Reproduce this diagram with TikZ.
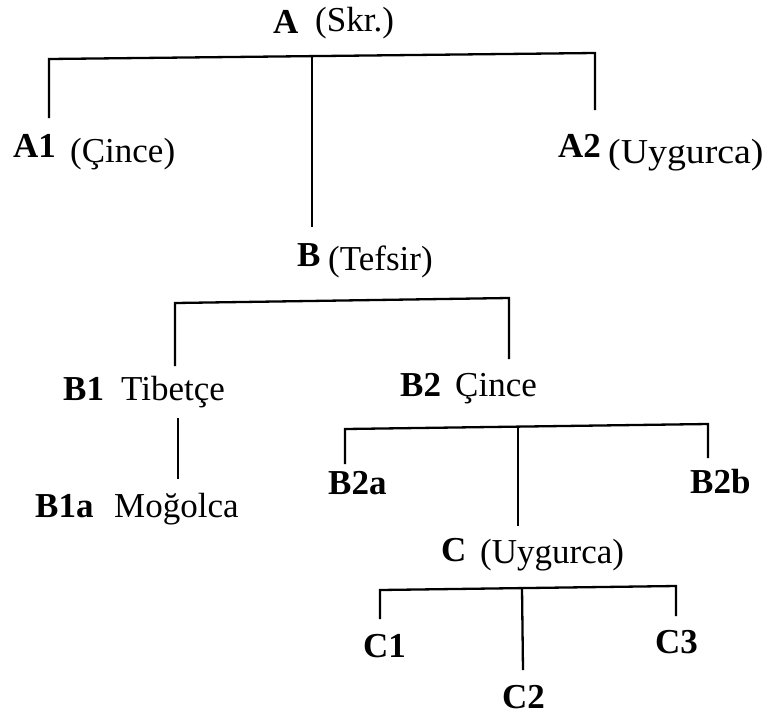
\documentclass[tikz,border=0pt]{standalone}
\usepackage{fontspec}
\setmainfont{Liberation Serif}
\begin{document}
\begin{tikzpicture}[x=1pt,y=-1pt,
  lbl/.style={inner sep=0pt, anchor=base west, font=\fontsize{35pt}{40pt}\selectfont\bfseries},
  ann/.style={inner sep=0pt, anchor=base west, font=\fontsize{35pt}{40pt}\selectfont},
  conn/.style={line width=2.3pt, line join=miter, draw=black}]
\useasboundingbox (0,0) rectangle (773,716);
% labels
\node[lbl] (A) at (273,33) {A};
\node[ann] (Ax) at (315,31) {(Skr.)};
\node[lbl] (A1) at (13,157) {A1};
\node[ann] (A1x) at (70,162) {(Çince)};
\node[lbl] (A2) at (558,157) {A2};
\node[ann, xscale=1.08, transform shape] (A2x) at (608,163) {(Uygurca)};
\node[lbl] (B) at (297,266) {B};
\node[ann] (Bx) at (328,270) {(Tefsir)};
\node[lbl] (B1) at (63,400) {B1};
\node[ann] (B1x) at (121,400) {Tibetçe};
\node[lbl] (B1a) at (35,517) {B1a};
\node[ann] (B1ax) at (114,517) {Moğolca};
\node[lbl] (B2) at (400,396) {B2};
\node[ann] (B2x) at (455,396) {Çince};
\node[lbl] (B2a) at (328,494) {B2a};
\node[lbl] (B2b) at (690,493) {B2b};
\node[lbl] (C) at (441,561) {C};
\node[ann] (Cx) at (480,563) {(Uygurca)};
\node[lbl] (C1) at (363,657) {C1};
\node[lbl] (C2) at (502,708) {C2};
\node[lbl] (C3) at (655,653) {C3};
% junction coordinates
\coordinate (aL) at (49,59);
\coordinate (aM) at (312,57);
\coordinate (aR) at (595,53);
\coordinate (a1e) at (49,118);
\coordinate (a2e) at (595,110);
\coordinate (be) at (312,227);
\coordinate (bL) at (175,303);
\coordinate (bR) at (509,298);
\coordinate (b1e) at (175,366);
\coordinate (b2e) at (509,359);
\coordinate (b1s) at (178,418);
\coordinate (b1ae) at (178,479);
\coordinate (cL) at (345,429);
\coordinate (cM) at (518,427);
\coordinate (cR) at (708,424);
\coordinate (b2ae) at (345,464);
\coordinate (b2be) at (708,458);
\coordinate (ce) at (518,526);
\coordinate (dL) at (380,590);
\coordinate (dM) at (522,588);
\coordinate (dR) at (676,586);
\coordinate (c1e) at (380,619);
\coordinate (c2e) at (523,670);
\coordinate (c3e) at (676,616);
% connectors
\draw[conn] (a1e) -- (aL) -- (aR) -- (a2e);
\draw[conn] (aM) -- (be);
\draw[conn] (b1e) -- (bL) -- (bR) -- (b2e);
\draw[conn] (b1s) -- (b1ae);
\draw[conn] (b2ae) -- (cL) -- (cR) -- (b2be);
\draw[conn] (cM) -- (ce);
\draw[conn] (c1e) -- (dL) -- (dR) -- (c3e);
\draw[conn] (dM) -- (c2e);
\end{tikzpicture}
\end{document}
